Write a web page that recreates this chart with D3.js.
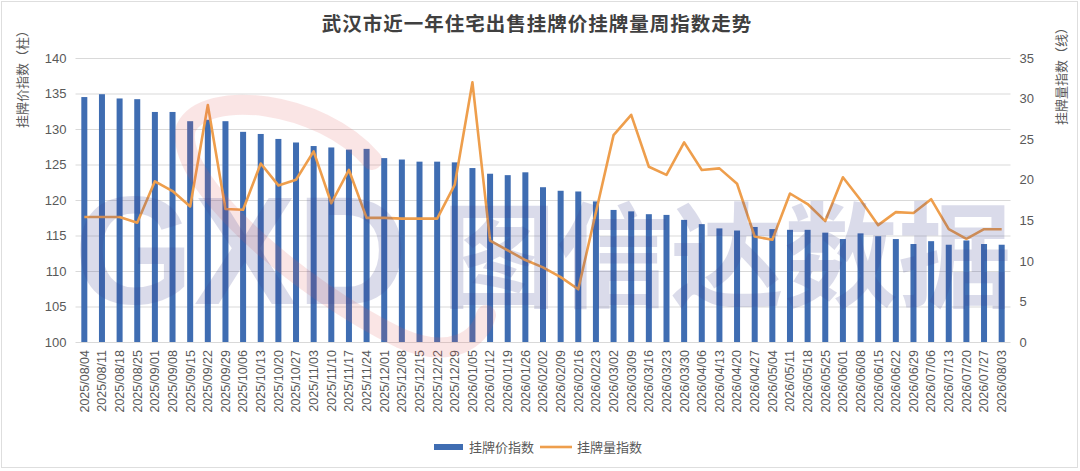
<!DOCTYPE html>
<html lang="zh">
<head>
<meta charset="utf-8">
<title>武汉市近一年住宅出售挂牌价挂牌量周指数走势</title>
<script src="https://d3js.org/d3.v7.min.js"></script>
<style>
  body { margin: 0; background: #fff; }
  svg { display: block; font-family: "Liberation Sans", "Noto Sans CJK SC", sans-serif; }
</style>
</head>
<body>
<svg id="chart"></svg>
<script>
// weekly categories
const weeks = [
  "2025/08/04", "2025/08/11", "2025/08/18", "2025/08/25",
  "2025/09/01", "2025/09/08", "2025/09/15", "2025/09/22", "2025/09/29",
  "2025/10/06", "2025/10/13", "2025/10/20", "2025/10/27",
  "2025/11/03", "2025/11/10", "2025/11/17", "2025/11/24",
  "2025/12/01", "2025/12/08", "2025/12/15", "2025/12/22", "2025/12/29",
  "2026/01/05", "2026/01/12", "2026/01/19", "2026/01/26",
  "2026/02/02", "2026/02/09", "2026/02/16", "2026/02/23",
  "2026/03/02", "2026/03/09", "2026/03/16", "2026/03/23", "2026/03/30",
  "2026/04/06", "2026/04/13", "2026/04/20", "2026/04/27",
  "2026/05/04", "2026/05/11", "2026/05/18", "2026/05/25",
  "2026/06/01", "2026/06/08", "2026/06/15", "2026/06/22", "2026/06/29",
  "2026/07/06", "2026/07/13", "2026/07/20", "2026/07/27",
  "2026/08/03"
];

// 挂牌价指数 (bars, left axis)
const priceIndex = [
  134.5, 134.9, 134.3, 134.2,
  132.4, 132.4, 131.1, 131.3, 131.1,
  129.6, 129.3, 128.6, 128.1,
  127.6, 127.4, 127.1, 127.2,
  125.9, 125.7, 125.4, 125.4, 125.3,
  124.5, 123.7, 123.5, 123.9,
  121.8, 121.3, 121.2, 119.8,
  118.6, 118.4, 118.0, 117.9, 117.2,
  116.6, 116.0, 115.7, 116.2,
  115.9, 115.8, 115.8, 115.4,
  114.5, 115.3, 114.9, 114.5, 113.8,
  114.2, 113.7, 114.3, 113.8,
  113.7
];

// 挂牌量指数 (line, right axis)
const volumeIndex = [
  15.4, 15.4, 15.4, 14.7,
  19.8, 18.6, 16.7, 29.2, 16.4,
  16.3, 22.0, 19.3, 20.0,
  23.5, 17.1, 21.2, 15.3,
  15.3, 15.2, 15.2, 15.2, 19.4,
  32.0, 12.5, 11.3, 10.1,
  9.2, 8.0, 6.5, 16.0,
  25.5, 28.0, 21.6, 20.6, 24.6,
  21.2, 21.4, 19.5, 13.0,
  12.6, 18.3, 17.0, 14.9,
  20.3, 17.5, 14.4, 16.0, 15.9,
  17.6, 13.9, 12.7, 13.9,
  13.9
];

const leftTicks = [100, 105, 110, 115, 120, 125, 130, 135, 140];
const rightTicks = [0, 5, 10, 15, 20, 25, 30, 35];

const width = 1080, height = 471;
const plot = { left: 75.5, right: 1010.5, top: 58, bottom: 342 };

const svg = d3.select("#chart")
  .attr("width", width)
  .attr("height", height);

svg.append("rect")
  .attr("x", 1.5).attr("y", 1.5)
  .attr("width", 1076).attr("height", 466)
  .attr("fill", "#fff")
  .attr("stroke", "#dedede");

const x = d3.scaleBand()
  .domain(weeks)
  .range([plot.left, plot.right]);

const yLeft = d3.scaleLinear()
  .domain([100, 140])
  .range([plot.bottom, plot.top]);

const yRight = d3.scaleLinear()
  .domain([0, 35])
  .range([plot.bottom, plot.top]);

// title
svg.append("text")
  .attr("x", 537).attr("y", 31)
  .attr("text-anchor", "middle")
  .attr("font-family", "Noto Sans CJK SC")
  .attr("font-size", 19.5)
  .attr("font-weight", "bold")
  .attr("letter-spacing", 1)
  .attr("fill", "#404040")
  .text("武汉市近一年住宅出售挂牌价挂牌量周指数走势");

// gridlines
svg.append("g")
  .selectAll("line")
  .data(leftTicks)
  .join("line")
    .attr("x1", plot.left).attr("x2", plot.right)
    .attr("y1", d => yLeft(d) + 0.5).attr("y2", d => yLeft(d) + 0.5)
    .attr("stroke", "#d9d9d9");

// left axis
const leftAxis = svg.append("g")
  .attr("transform", `translate(${plot.left},0)`)
  .call(d3.axisLeft(yLeft).tickValues(leftTicks).tickSize(0).tickPadding(9));
leftAxis.select(".domain").remove();
leftAxis.selectAll("text")
  .attr("font-size", 13)
  .attr("font-family", "Liberation Sans")
  .attr("fill", "#595959");

// right axis
const rightAxis = svg.append("g")
  .attr("transform", `translate(${plot.right},0)`)
  .call(d3.axisRight(yRight).tickValues(rightTicks).tickSize(0).tickPadding(9));
rightAxis.select(".domain").remove();
rightAxis.selectAll("text")
  .attr("font-size", 13)
  .attr("font-family", "Liberation Sans")
  .attr("fill", "#595959");

// x axis labels, rotated
const xAxis = svg.append("g")
  .attr("transform", `translate(0,${plot.bottom})`)
  .call(d3.axisBottom(x).tickSize(0).tickPadding(0));
xAxis.select(".domain").remove();
xAxis.selectAll("text")
  .attr("font-size", 12.5)
  .attr("font-family", "Liberation Sans")
  .attr("fill", "#595959")
  .attr("text-anchor", "end")
  .attr("transform", "rotate(-90)")
  .attr("x", -8)
  .attr("y", 0)
  .attr("dy", "0.35em");

// axis titles
svg.append("text")
  .attr("transform", "translate(27,76) rotate(-90)")
  .attr("text-anchor", "middle")
  .attr("font-family", "Noto Sans CJK SC")
  .attr("font-size", 13)
  .attr("fill", "#595959")
  .text("挂牌价指数（柱）");

svg.append("text")
  .attr("transform", "translate(1066,73) rotate(-90)")
  .attr("text-anchor", "middle")
  .attr("font-family", "Noto Sans CJK SC")
  .attr("font-size", 13)
  .attr("fill", "#595959")
  .text("挂牌量指数（线）");

// bars
const barW = 6;
svg.append("g")
  .selectAll("rect")
  .data(weeks)
  .join("rect")
    .attr("x", (d, i) => x(d) + x.bandwidth() / 2 - barW / 2)
    .attr("y", (d, i) => yLeft(priceIndex[i]))
    .attr("width", barW)
    .attr("height", (d, i) => yLeft(100) - yLeft(priceIndex[i]))
    .attr("fill", "#3f6db2");

// line
const line = d3.line()
  .x((d, i) => x(weeks[i]) + x.bandwidth() / 2)
  .y(d => yRight(d));

svg.append("path")
  .datum(volumeIndex)
  .attr("d", line)
  .attr("fill", "none")
  .attr("stroke", "#ee9e4c")
  .attr("stroke-width", 2.6)
  .attr("stroke-linejoin", "round");

// watermark on top, faint
const wm = svg.append("g").attr("pointer-events", "none");
wm.append("path")
  .attr("d", "M372,160 C320,100 205,88 186,128 C172,180 300,290 400,338 C450,360 480,340 486,315")
  .attr("fill", "none")
  .attr("stroke", "#e35d5d")
  .attr("stroke-width", 20)
  .attr("stroke-linecap", "round")
  .attr("opacity", 0.16);
wm.append("text")
  .attr("x", 74).attr("y", 304)
  .attr("font-family", "Liberation Sans")
  .attr("font-weight", "bold")
  .attr("font-size", 154)
  .attr("fill", "#3a3f8f")
  .attr("opacity", 0.18)
  .text("GXD");
wm.append("text")
  .attr("x", 442).attr("y", 298)
  .attr("font-family", "Noto Sans CJK SC")
  .attr("font-weight", "bold")
  .attr("font-size", 114)
  .attr("fill", "#3a3f8f")
  .attr("opacity", 0.18)
  .text("图信达数据");

// legend
const legend = svg.append("g");
legend.append("rect")
  .attr("x", 434).attr("y", 444)
  .attr("width", 29).attr("height", 6)
  .attr("fill", "#3f6db2");
legend.append("text")
  .attr("x", 469).attr("y", 452)
  .attr("font-family", "Noto Sans CJK SC")
  .attr("font-size", 13)
  .attr("fill", "#595959")
  .text("挂牌价指数");
legend.append("line")
  .attr("x1", 540).attr("x2", 572)
  .attr("y1", 447).attr("y2", 447)
  .attr("stroke", "#ee9e4c")
  .attr("stroke-width", 2.6);
legend.append("text")
  .attr("x", 577).attr("y", 452)
  .attr("font-family", "Noto Sans CJK SC")
  .attr("font-size", 13)
  .attr("fill", "#595959")
  .text("挂牌量指数");
</script>
</body>
</html>
